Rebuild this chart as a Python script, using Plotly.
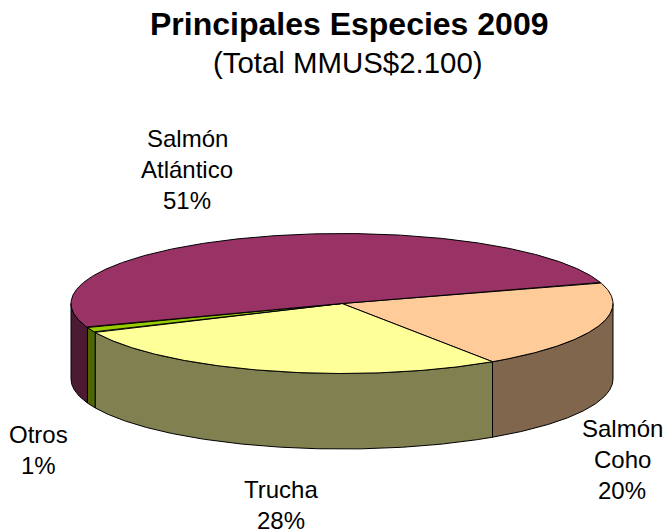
import numpy as np
import plotly.graph_objects as go

# Data (share of total, %), clockwise from the Coho slice
categories = ["Salmón Coho", "Trucha", "Otros", "Salmón Atlántico"]
label_lines = [["Salmón", "Coho"], ["Trucha"], ["Otros"], ["Salmón", "Atlántico"]]
values = [20.49, 27.6, 1.2, 50.71]
top_colors = ["#FFCC99", "#FFFF99", "#99CC00", "#993366"]
side_colors = ["#80664D", "#808050", "#4D6600", "#4D1A33"]
title_text = "Principales Especies 2009"
subtitle_text = "(Total MMUS$2.100)"

# Pie geometry in pixels
W, H = 667, 531
CX, CY, RX, RY, DEPTH = 342, 303.5, 271, 70, 75.5
START_DEG = -17.5
label_anchor = [(622, 428), (281, 489), (38, 434), (187, 138)]
LINE_STEP = 31
FONT = "Liberation Sans, Arial, sans-serif"


def arc(a0, a1):
    t = np.radians(np.linspace(a0, a1, max(2, int(abs(a1 - a0) * 2) + 1)))
    return CX + RX * np.cos(t), CY + RY * np.sin(t)


fig = go.Figure()
edges = START_DEG + np.cumsum([0] + values) * 3.6


def add_poly(x, y, color):
    fig.add_trace(go.Scatter(
        x=x, y=y, mode="lines", fill="toself", fillcolor=color,
        line=dict(color="#000000", width=1), hoverinfo="skip", showlegend=False))


# Side walls: only the near half (0..180 degrees) is visible
for i in range(len(values)):
    a0, a1 = max(edges[i], 0), min(edges[i + 1], 180)
    if a1 > a0:
        x, y = arc(a0, a1)
        px = np.concatenate([x, x[::-1], x[:1]])
        py = np.concatenate([y, y[::-1] + DEPTH, y[:1]])
        add_poly(px, py, side_colors[i])

# Top face slices
for i in range(len(values)):
    x, y = arc(edges[i], edges[i + 1])
    add_poly(np.concatenate([[CX], x, [CX]]), np.concatenate([[CY], y, [CY]]), top_colors[i])

annotations = [
    dict(x=349, y=24, text=f"<b>{title_text}</b>", font=dict(size=32)),
    dict(x=348, y=62.5, text=subtitle_text, font=dict(size=29.4)),
]
for lines, v, (ax, ay) in zip(label_lines, values, label_anchor):
    for k, line in enumerate(lines + [f"{round(v)}%"]):
        annotations.append(dict(x=ax, y=ay + k * LINE_STEP, text=line, font=dict(size=24)))
for a in annotations:
    a.update(xref="x", yref="y", showarrow=False, xanchor="center", yanchor="middle")
    a["font"].update(family=FONT, color="#000000")

hidden = dict(visible=False, fixedrange=True)
fig.update_layout(
    width=W, height=H, margin=dict(l=0, r=0, t=0, b=0),
    paper_bgcolor="#FFFFFF", plot_bgcolor="#FFFFFF",
    xaxis=dict(range=[0, W], **hidden),
    yaxis=dict(range=[H, 0], **hidden),
    annotations=annotations, showlegend=False,
)
fig.write_html(
    "out.html", config={"displayModeBar": False},
    post_script="document.body.style.margin='0';document.body.style.overflow='hidden';",
)
